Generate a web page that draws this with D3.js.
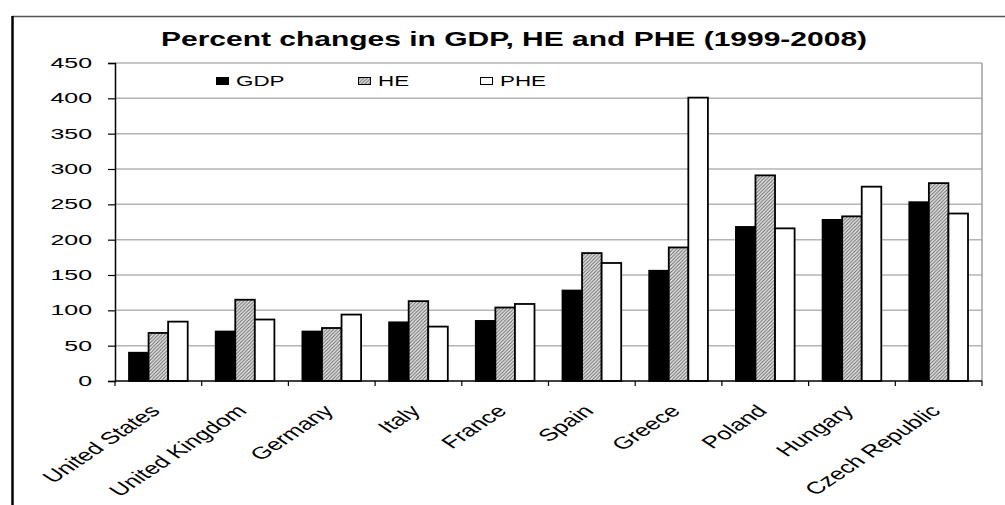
<!DOCTYPE html>
<html>
<head>
<meta charset="utf-8">
<script src="https://cdn.jsdelivr.net/npm/d3@7"></script>
<style>
  html, body { margin: 0; padding: 0; background: #fff; }
  svg text { font-family: "Liberation Sans", Arial, sans-serif; fill: #000; }
</style>
</head>
<body>
<svg id="chart" width="1005" height="505"></svg>
<script>
// Percent changes 1999-2008, by country
const categories = ["United States", "United Kingdom", "Germany", "Italy", "France",
                    "Spain", "Greece", "Poland", "Hungary", "Czech Republic"];
const seriesNames = ["GDP", "HE", "PHE"];
const gdp = [40, 70, 70, 83, 85, 128, 156, 218, 228, 253];
const he  = [68, 115, 75, 113, 104, 181, 189, 291, 233, 280];
const phe = [84, 87, 94, 77, 109, 167, 401, 216, 275, 237];
const yTicks = [0, 50, 100, 150, 200, 250, 300, 350, 400, 450];
const titleText = "Percent changes in GDP, HE and PHE (1999-2008)";

const seriesValues = { GDP: gdp, HE: he, PHE: phe };

const svg = d3.select("#chart");
const plot = { left: 115, right: 982, top: 63, bottom: 381 };

// horizontal stretch factors used for the wide lettering
const sxTitle = 1.5, sxTick = 1.78, sxLegend = 1.6, sxCat = 1.5;

// hatch pattern for the HE series
const defs = svg.append("defs");
const pat = defs.append("pattern")
  .attr("id", "hatch")
  .attr("patternUnits", "userSpaceOnUse")
  .attr("width", 3.5).attr("height", 3.5);
pat.append("rect").attr("width", 3.5).attr("height", 3.5).attr("fill", "#e6e6e6");
pat.append("path").attr("d", "M-1,1 L1,-1 M0,3.5 L3.5,0 M2.5,4.5 L4.5,2.5")
  .attr("stroke", "#5e5e5e").attr("stroke-width", 0.9);

// outer frame (top and left edges)
svg.append("line").attr("x1", 12).attr("x2", 1005).attr("y1", 16.5).attr("y2", 16.5)
  .attr("stroke", "#555").attr("stroke-width", 1.5);
svg.append("line").attr("x1", 12.5).attr("x2", 12.5).attr("y1", 16).attr("y2", 505)
  .attr("stroke", "#000").attr("stroke-width", 2.5);

// scales
const y = d3.scaleLinear().domain([0, 450]).range([plot.bottom, plot.top]);
const xOuter = d3.scaleBand().domain(categories).range([plot.left, plot.right]).padding(0);
const x0 = d3.scaleBand().domain(categories).range([plot.left, plot.right])
  .paddingInner(0.323).paddingOuter(0.1615);
const x1 = d3.scaleBand().domain(seriesNames).range([0, x0.bandwidth()]).padding(0);

// gridlines
svg.append("g").selectAll("line").data(yTicks.filter(d => d > 0)).join("line")
  .attr("x1", plot.left).attr("x2", plot.right)
  .attr("y1", d => y(d)).attr("y2", d => y(d))
  .attr("stroke", "#b4b4b4").attr("stroke-width", 1.5);

// plot-area right border
svg.append("line").attr("x1", plot.right).attr("x2", plot.right)
  .attr("y1", plot.top).attr("y2", plot.bottom)
  .attr("stroke", "#a0a0a0").attr("stroke-width", 1.5);

// bars
const fills = { GDP: "#000", HE: "url(#hatch)", PHE: "#fff" };
const groups = svg.append("g").selectAll("g").data(categories).join("g")
  .attr("transform", d => `translate(${x0(d)},0)`);
groups.selectAll("rect")
  .data((c, i) => seriesNames.map(s => ({ s, v: seriesValues[s][i] })))
  .join("rect")
  .attr("x", d => x1(d.s))
  .attr("width", x1.bandwidth())
  .attr("y", d => y(d.v))
  .attr("height", d => y(0) - y(d.v))
  .attr("fill", d => fills[d.s])
  .attr("stroke", "#000").attr("stroke-width", 1.8);

// y axis
const yAxis = svg.append("g").attr("transform", `translate(${plot.left},0)`)
  .call(d3.axisLeft(y).tickValues(yTicks).tickSize(7).tickPadding(23));
yAxis.select(".domain").attr("stroke", "#000").attr("stroke-width", 1.5);
yAxis.selectAll(".tick line").attr("stroke", "#000").attr("stroke-width", 1.2);
yAxis.selectAll(".tick text")
  .style("font-family", '"Liberation Sans", Arial, sans-serif')
  .attr("font-size", 14)
  .attr("x", -23 / sxTick)
  .attr("transform", `scale(${sxTick},1)`);

// x axis baseline and category boundary ticks
svg.append("line").attr("x1", plot.left).attr("x2", plot.right)
  .attr("y1", plot.bottom).attr("y2", plot.bottom)
  .attr("stroke", "#000").attr("stroke-width", 1.5);
const bounds = categories.map(c => xOuter(c)).concat([plot.right]);
svg.append("g").selectAll("line").data(bounds).join("line")
  .attr("x1", d => d).attr("x2", d => d)
  .attr("y1", plot.bottom).attr("y2", plot.bottom + 5)
  .attr("stroke", "#000").attr("stroke-width", 1.2);

// rotated category labels
svg.append("g").selectAll("text").data(categories).join("text")
  .attr("text-anchor", "end")
  .attr("font-size", 17)
  .attr("transform", d => {
    const cx = xOuter(d) + xOuter.bandwidth() / 2 + 3;
    return `translate(${cx},${plot.bottom + 31}) scale(${sxCat},1) rotate(-45)`;
  })
  .text(d => d);

// title
svg.append("text")
  .attr("text-anchor", "middle")
  .attr("font-size", 20).attr("font-weight", "bold")
  .attr("transform", `translate(514,45.5) scale(${sxTitle},1)`)
  .text(titleText);

// legend
const legendX = { GDP: 216, HE: 358, PHE: 480 };
const leg = svg.append("g").selectAll("g").data(seriesNames).join("g")
  .attr("transform", d => `translate(${legendX[d]},0)`);
leg.append("rect").attr("x", 0.5).attr("y", 77.5).attr("width", 12).attr("height", 7)
  .attr("fill", d => fills[d]).attr("stroke", "#000").attr("stroke-width", 1);
leg.append("text").attr("font-size", 14)
  .attr("transform", `translate(20,85.5) scale(${sxLegend},1)`)
  .text(d => d);
</script>
</body>
</html>
